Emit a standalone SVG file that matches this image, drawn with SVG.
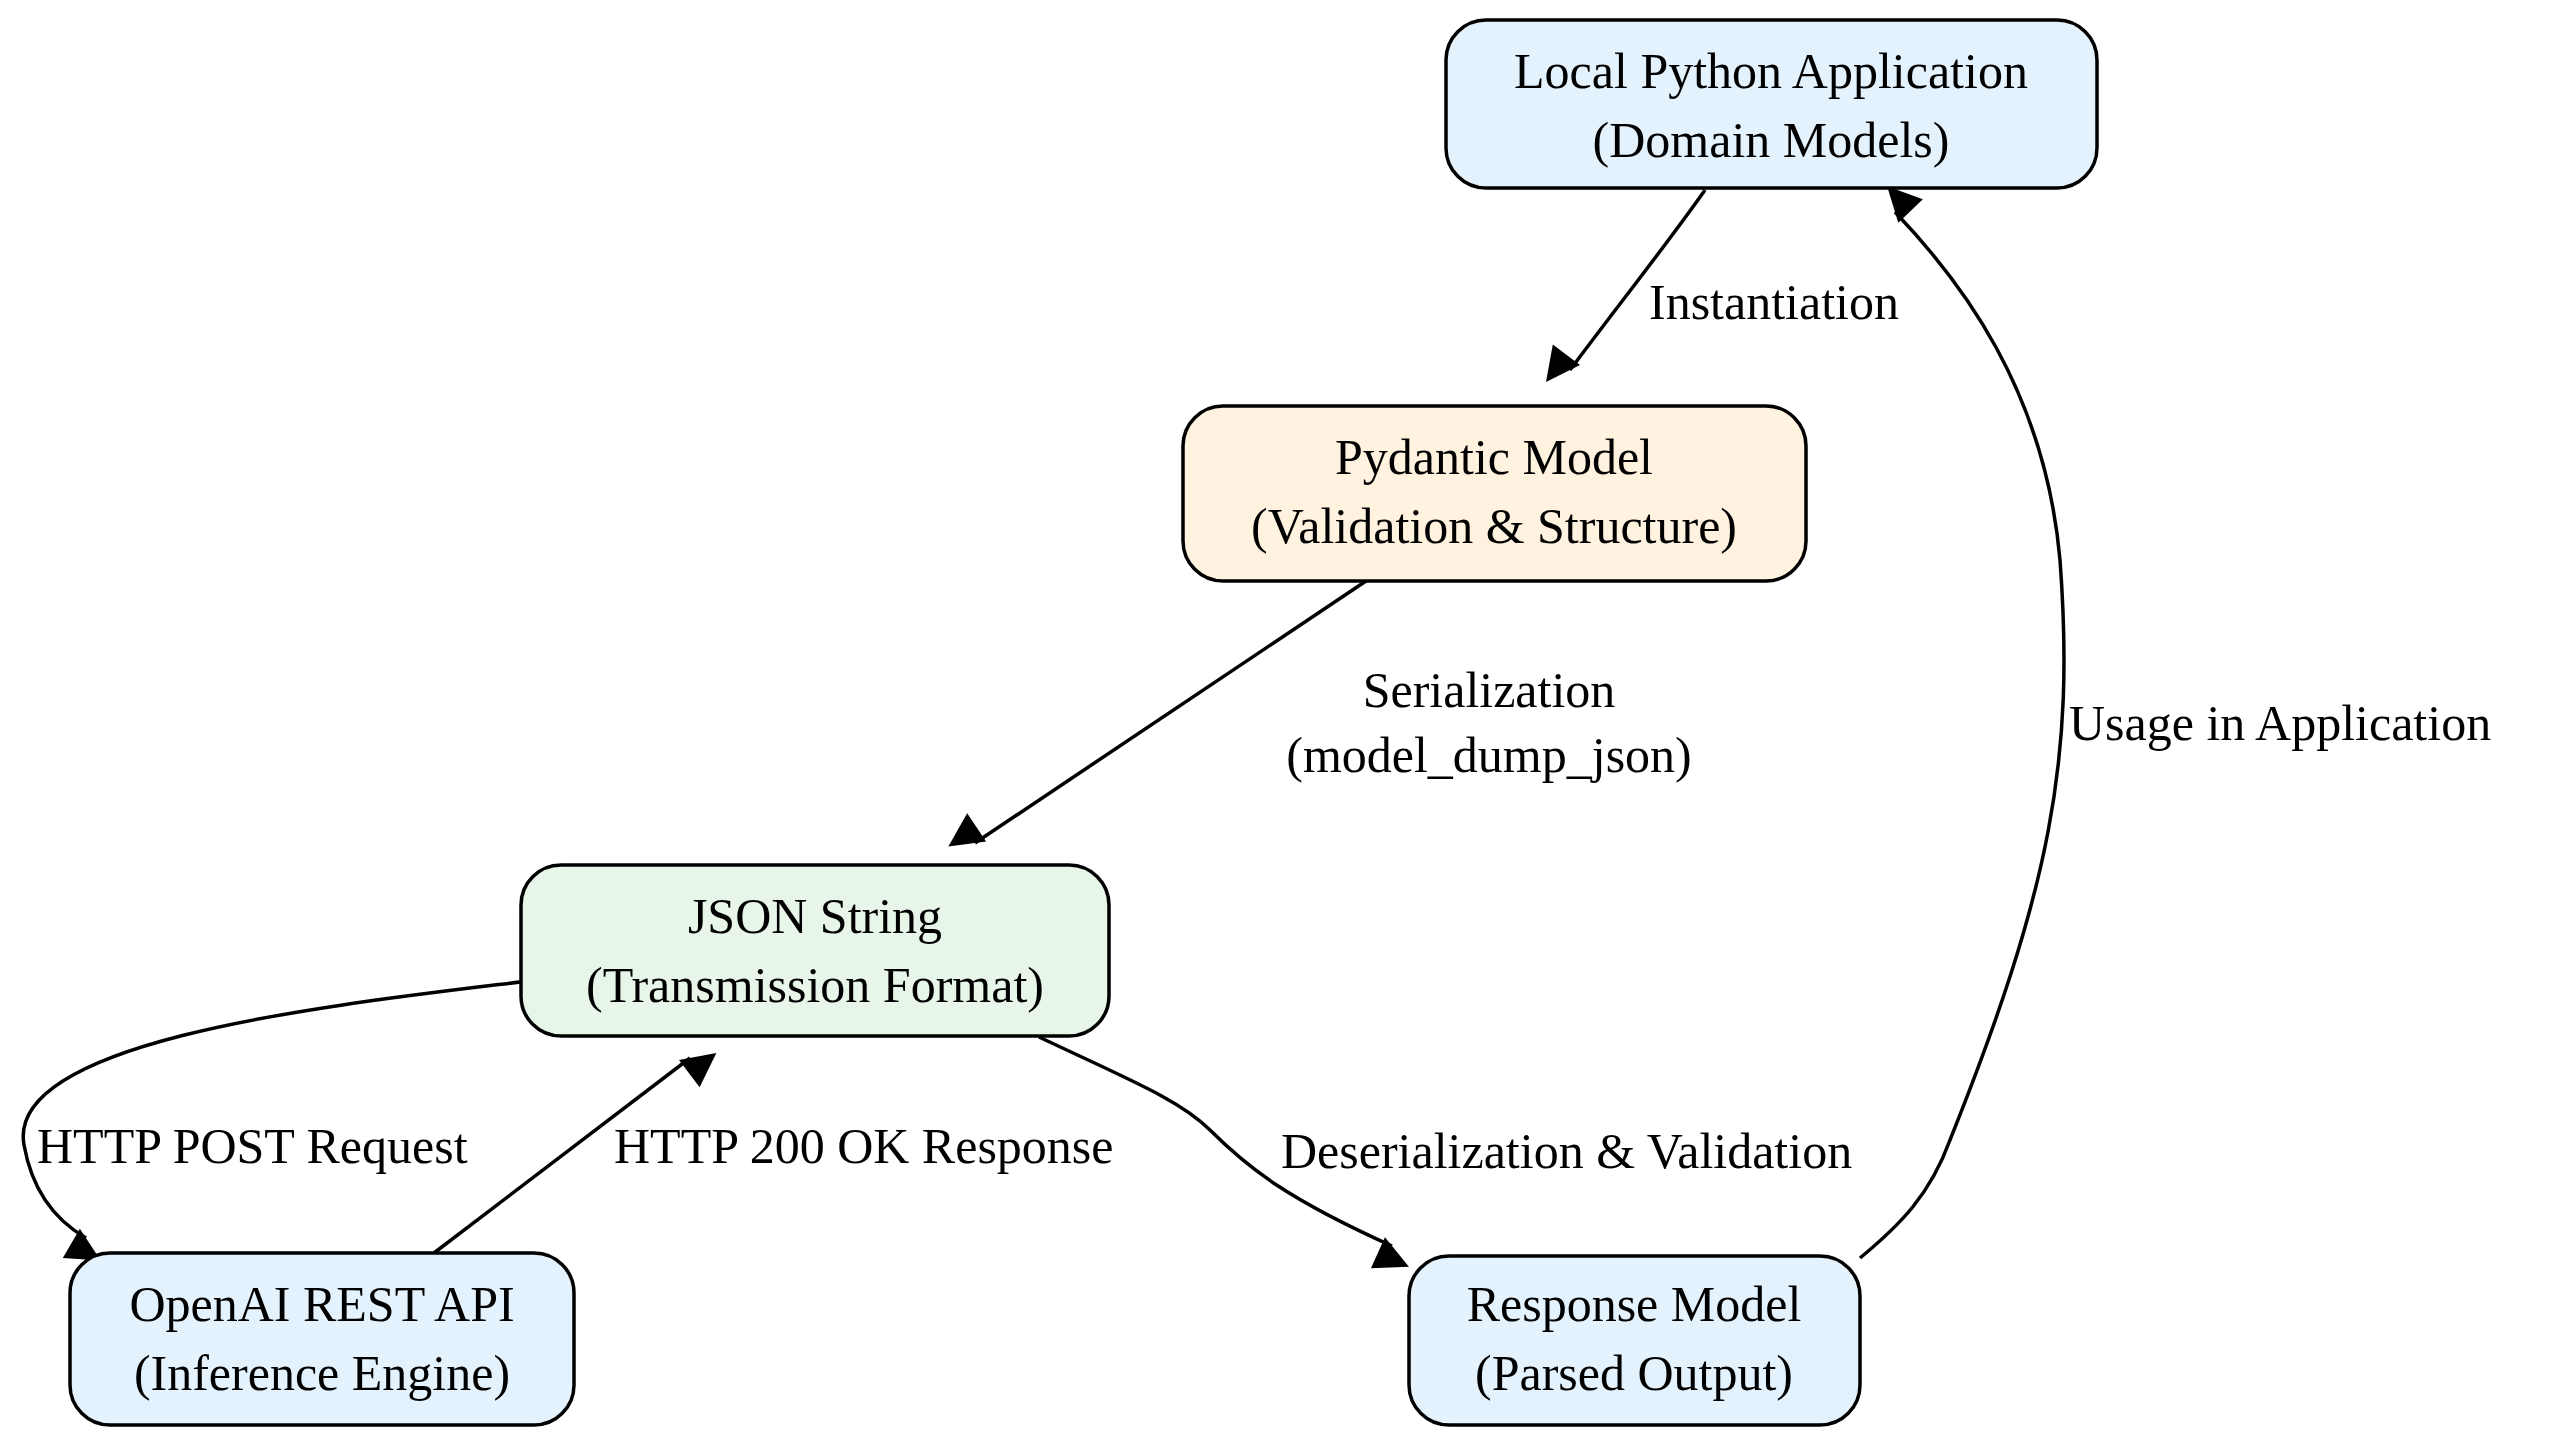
<svg xmlns="http://www.w3.org/2000/svg" width="2556" height="1442" viewBox="0 0 2556 1442">
<style>
text{font-family:"Liberation Serif","Times New Roman",serif;font-size:50px;fill:#000}
.n text{text-anchor:middle}
.n rect{stroke:#000;stroke-width:3.5}
.e path{fill:none;stroke:#000;stroke-width:3.5}
</style>
<defs><marker id="a" viewBox="0 0 10 10" refX="10" refY="5" markerWidth="10" markerHeight="10" markerUnits="userSpaceOnUse" orient="auto" overflow="visible"><path d="M0,0 L10,5 L0,10 z" fill="#000" transform="scale(3.4)"/></marker></defs>
<rect width="2556" height="1442" fill="#fff"/>
<g class="e">
<path d="M1705,190 C1670,240 1630,290 1570,370" marker-end="url(#a)"/>
<path d="M1366,581 L975,843" marker-end="url(#a)"/>
<path d="M520,982 C330,1005 5,1040 24,1145 C32,1190 55,1220 86,1238" marker-end="url(#a)"/>
<path d="M430,1256 L690,1058" marker-end="url(#a)"/>
<path d="M1039,1037 C1130,1080 1180,1100 1210,1130 C1250,1170 1290,1200 1392,1246" marker-end="url(#a)"/>
<path d="M1860,1258 C1900,1225 1930,1195 1950,1140 C2050,890 2075,760 2060,560 C2045,390 1960,280 1895,212" marker-end="url(#a)"/>
<text x="1649" y="319">Instantiation</text>
<text x="1489" y="707" text-anchor="middle">Serialization</text>
<text x="1489" y="772" text-anchor="middle">(model_dump_json)</text>
<text x="37" y="1163">HTTP POST Request</text>
<text x="614" y="1163">HTTP 200 OK Response</text>
<text x="1281" y="1168">Deserialization &amp; Validation</text>
<text x="2069" y="740">Usage in Application</text>
</g>
<g class="n" id="local"><rect x="1446" y="20" width="651" height="168" rx="40" fill="#E3F2FD"/><text x="1771" y="88">Local Python Application</text><text x="1771" y="157">(Domain Models)</text></g>
<g class="n" id="pydantic"><rect x="1183" y="406" width="623" height="175" rx="40" fill="#FFF3E0"/><text x="1494" y="474">Pydantic Model</text><text x="1494" y="543">(Validation &amp; Structure)</text></g>
<g class="n" id="json"><rect x="521" y="865" width="588" height="171" rx="40" fill="#E8F5E9"/><text x="815" y="933">JSON String</text><text x="815" y="1002">(Transmission Format)</text></g>
<g class="n" id="openai"><rect x="70" y="1253" width="504" height="172" rx="40" fill="#E3F2FD"/><text x="322" y="1321">OpenAI REST API</text><text x="322" y="1390">(Inference Engine)</text></g>
<g class="n" id="response"><rect x="1409" y="1256" width="451" height="169" rx="40" fill="#E3F2FD"/><text x="1634" y="1321">Response Model</text><text x="1634" y="1390">(Parsed Output)</text></g>
</svg>
